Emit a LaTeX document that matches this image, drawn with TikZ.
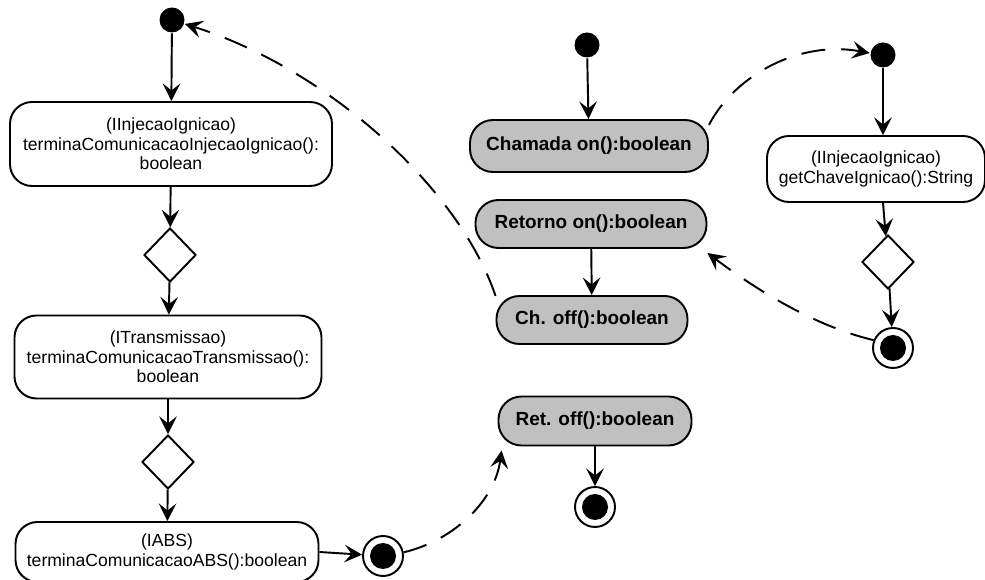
\documentclass[tikz,border=0pt]{standalone}
\usepackage{fontspec}
\setmainfont{Liberation Sans}
\usetikzlibrary{shapes.geometric,arrows.meta}
\definecolor{callgray}{HTML}{C0C0C0}
\newlength\pxu
\setlength\pxu{0.02cm}

\begin{document}
\begin{tikzpicture}[x=\pxu,y=-\pxu,line width=1.1pt]
	\tikzset{act/.style 2 args={draw, rounded corners=22\pxu, align=center, inner sep=0pt, minimum width=#1\pxu, minimum height=#2\pxu, font=\fontsize{10}{11}\selectfont},
		call/.style 2 args={draw, fill=callgray, rounded corners=23\pxu, inner sep=0pt, minimum width=#1\pxu, minimum height=#2\pxu, font=\fontsize{10.8}{12}\selectfont\bfseries},
		startdot/.style={circle, fill=black, inner sep=0pt, minimum size=25\pxu},
		enddot/.style={circle, draw, fill=white, inner sep=0pt, minimum size=40\pxu, path picture={\fill[black] (path picture bounding box.center) circle (13\pxu);}},
		choice/.style={diamond, draw, inner sep=0pt, minimum width=52\pxu, minimum height=54\pxu},
		flow/.style={-{Stealth[length=10pt,width=10pt,inset=4pt]}},
		msg/.style={dash pattern=on 24\pxu off 16\pxu, -{Stealth[length=10pt,width=10pt,inset=4pt]}}};
	\useasboundingbox (0,0) rectangle (985,580);
	
	% left column
	\node[startdot] (s1) at (172,20) {};
	\node[act={322}{84}] (a1) at (171,144) {(IInjecaoIgnicao)\\terminaComunicacaoInjecaoIgnicao():\\boolean};
	\node[choice] (d1) at (170,255) {};
	\node[act={307}{83}] (a2) at (168,357) {(ITransmissao)\\terminaComunicacaoTransmissao():\\boolean};
	\node[choice] (d2) at (168,462) {};
	\node[act={303}{60}] (a3) at (167,552) {(IABS)\\terminaComunicacaoABS():boolean};
	\node[enddot] (e1) at (383,556) {};
	
	\draw[flow] (s1)--(a1);
	\draw[flow] (a1)--(d1);
	\draw[flow] (d1)--(a2);
	\draw[flow] (a2)--(d2);
	\draw[flow] (d2)--(a3);
	\draw[flow] (a3.east)--(e1);
	
	% middle column
	\node[startdot] (s2) at (587,45) {};
	\node[call={238}{52}] (chon) at (589,146) {Chamada on():boolean};
	\node[call={231}{48}] (reton) at (591,224) {Retorno on():boolean};
	\node[call={191}{48}] (choff) at (592,320) {Ch. off():boolean};
	\node[call={193}{49}] (retoff) at (595,421) {Ret. off():boolean};
	\node[enddot] (e3) at (595,507) {};
	
	\draw[flow] (s2)--(chon);
	\draw[flow] (reton)--(choff);
	\draw[flow] (retoff)--(e3);
	
	% right column
	\node[startdot] (s3) at (883,55) {};
	\node[act={218}{66}] (a4) at (876,169) {(IInjecaoIgnicao)\\getChaveIgnicao():String};
	\node[choice] (d3) at (888,262) {};
	\node[enddot] (e2) at (893,348) {};
	
	\draw[flow] (s3)--(s3 |- a4.north);
	\draw[flow] (a4.south -| s3)--(d3);
	\draw[flow] (d3)--(e2);
	
	% messages
	\draw[msg] (choff.166) .. controls (460,190) and (330,70) .. (s1.-17);
	\draw[msg] (e1.10) .. controls (455,540) and (495,500) .. ([xshift=4\pxu,yshift=-4\pxu]retoff.south west);
	\draw[msg] (chon.10) .. controls (735,75) and (800,40) .. (s3.172);
	\draw[msg] (e2.158) .. controls (810,325) and (750,285) .. ([yshift=-4\pxu]reton.south east);
\end{tikzpicture}
\end{document}
